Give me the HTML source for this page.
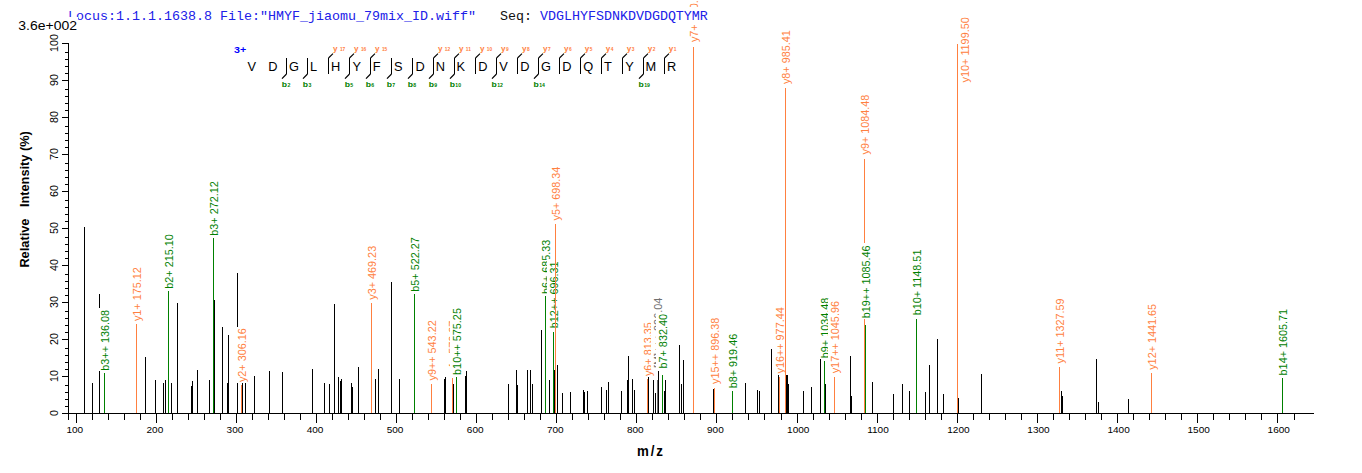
<!DOCTYPE html>
<html><head><meta charset="utf-8"><title>spectrum</title>
<style>html,body{margin:0;padding:0;background:#fff}svg{display:block}text{white-space:pre}</style></head>
<body>
<svg width="1362" height="473" viewBox="0 0 1362 473" font-family='"Liberation Sans", sans-serif' shape-rendering="crispEdges">
<rect width="1362" height="473" fill="#fff"/>
<g id="peaks">
<rect x="84" y="227" width="1" height="186" fill="#000"/>
<rect x="92" y="383" width="1" height="30" fill="#000"/>
<rect x="99" y="294" width="1" height="119" fill="#000"/>
<rect x="104" y="373" width="1" height="40" fill="#008000"/>
<rect x="98.40" y="307.65" width="13.6" height="63.35" fill="#fff"/>
<text transform="translate(109.40,370.70) rotate(-90) scale(0.985,1.0)" font-size="11.0" fill="#008000">b3++ 136.08</text>
<rect x="136" y="324" width="1" height="89" fill="#FF8040"/>
<rect x="130.40" y="265.59" width="13.6" height="56.41" fill="#fff"/>
<text transform="translate(141.40,321.10) rotate(-90) scale(0.985,1.0)" font-size="11.0" fill="#FF8040">y1+ 175.12</text>
<rect x="145" y="357" width="1" height="56" fill="#000"/>
<rect x="155" y="380" width="1" height="33" fill="#000"/>
<rect x="163" y="383" width="1" height="30" fill="#000"/>
<rect x="165" y="380" width="1" height="33" fill="#000"/>
<rect x="168" y="291" width="1" height="122" fill="#008000"/>
<rect x="162.40" y="231.98" width="13.6" height="57.02" fill="#fff"/>
<text transform="translate(173.40,288.70) rotate(-90) scale(0.985,1.0)" font-size="11.0" fill="#008000">b2+ 215.10</text>
<rect x="171" y="383" width="1" height="30" fill="#000"/>
<rect x="177" y="303" width="1" height="110" fill="#000"/>
<rect x="191" y="386" width="1" height="27" fill="#000"/>
<rect x="192" y="381" width="1" height="32" fill="#000"/>
<rect x="197" y="370" width="1" height="43" fill="#000"/>
<rect x="209" y="380" width="1" height="33" fill="#000"/>
<rect x="213" y="238" width="1" height="175" fill="#008000"/>
<rect x="207.40" y="178.98" width="13.6" height="57.02" fill="#fff"/>
<text transform="translate(218.40,235.70) rotate(-90) scale(0.985,1.0)" font-size="11.0" fill="#008000">b3+ 272.12</text>
<rect x="214" y="300" width="1" height="113" fill="#000"/>
<rect x="222" y="327" width="1" height="86" fill="#000"/>
<rect x="227" y="383" width="1" height="30" fill="#000"/>
<rect x="228" y="335" width="1" height="78" fill="#000"/>
<rect x="237" y="273" width="1" height="140" fill="#000"/>
<rect x="241" y="385" width="1" height="28" fill="#FF8040"/>
<rect x="235.40" y="326.59" width="13.6" height="56.41" fill="#fff"/>
<text transform="translate(246.40,382.10) rotate(-90) scale(0.985,1.0)" font-size="11.0" fill="#FF8040">y2+ 306.16</text>
<rect x="242" y="383" width="1" height="30" fill="#000"/>
<rect x="245" y="383" width="1" height="30" fill="#000"/>
<rect x="254" y="376" width="1" height="37" fill="#000"/>
<rect x="269" y="371" width="1" height="42" fill="#000"/>
<rect x="282" y="372" width="1" height="41" fill="#000"/>
<rect x="312" y="369" width="1" height="44" fill="#000"/>
<rect x="324" y="383" width="1" height="30" fill="#000"/>
<rect x="329" y="384" width="1" height="29" fill="#000"/>
<rect x="334" y="304" width="1" height="109" fill="#000"/>
<rect x="338" y="377" width="1" height="36" fill="#000"/>
<rect x="340" y="381" width="1" height="32" fill="#000"/>
<rect x="341" y="379" width="1" height="34" fill="#000"/>
<rect x="351" y="383" width="1" height="30" fill="#000"/>
<rect x="352" y="387" width="1" height="26" fill="#000"/>
<rect x="358" y="367" width="1" height="46" fill="#000"/>
<rect x="371" y="303" width="1" height="110" fill="#FF8040"/>
<rect x="365.40" y="244.19" width="13.6" height="56.41" fill="#fff"/>
<text transform="translate(376.40,299.70) rotate(-90) scale(0.985,1.0)" font-size="11.0" fill="#FF8040">y3+ 469.23</text>
<rect x="375" y="379" width="1" height="34" fill="#000"/>
<rect x="378" y="369" width="1" height="44" fill="#000"/>
<rect x="391" y="282" width="1" height="131" fill="#000"/>
<rect x="399" y="379" width="1" height="34" fill="#000"/>
<rect x="414" y="294" width="1" height="119" fill="#008000"/>
<rect x="408.40" y="234.98" width="13.6" height="57.02" fill="#fff"/>
<text transform="translate(419.40,291.70) rotate(-90) scale(0.985,1.0)" font-size="11.0" fill="#008000">b5+ 522.27</text>
<rect x="431" y="384" width="1" height="29" fill="#FF8040"/>
<rect x="425.40" y="318.66" width="13.6" height="62.74" fill="#fff"/>
<text transform="translate(436.40,380.50) rotate(-90) scale(0.985,1.0)" font-size="11.0" fill="#FF8040">y9++ 543.22</text>
<rect x="444" y="379" width="1" height="34" fill="#000"/>
<rect x="445" y="377" width="1" height="36" fill="#000"/>
<rect x="452" y="378" width="1" height="35" fill="#FF8040"/>
<rect x="446.40" y="319.09" width="13.6" height="56.41" fill="#fff"/>
<text transform="translate(457.40,374.60) rotate(-90) scale(0.985,1.0)" font-size="11.0" fill="#FF8040">y4+ 570.27</text>
<rect x="453" y="384" width="1" height="29" fill="#000"/>
<rect x="456" y="377" width="1" height="36" fill="#008000"/>
<rect x="450.40" y="305.83" width="13.6" height="69.37" fill="#fff"/>
<text transform="translate(461.40,374.90) rotate(-90) scale(0.985,1.0)" font-size="11.0" fill="#008000">b10++ 575.25</text>
<rect x="465" y="376" width="1" height="37" fill="#000"/>
<rect x="466" y="371" width="1" height="42" fill="#000"/>
<rect x="508" y="384" width="1" height="29" fill="#000"/>
<rect x="516" y="370" width="1" height="43" fill="#000"/>
<rect x="517" y="385" width="1" height="28" fill="#000"/>
<rect x="527" y="370" width="1" height="43" fill="#000"/>
<rect x="530" y="370" width="1" height="43" fill="#000"/>
<rect x="532" y="384" width="1" height="29" fill="#000"/>
<rect x="541" y="330" width="1" height="83" fill="#000"/>
<rect x="545" y="296" width="1" height="117" fill="#008000"/>
<rect x="539.40" y="237.38" width="13.6" height="57.02" fill="#fff"/>
<text transform="translate(550.40,294.10) rotate(-90) scale(0.985,1.0)" font-size="11.0" fill="#008000">b6+ 685.33</text>
<rect x="549" y="380" width="1" height="33" fill="#000"/>
<rect x="553" y="332" width="1" height="81" fill="#008000"/>
<rect x="547.40" y="259.13" width="13.6" height="69.37" fill="#fff"/>
<text transform="translate(558.40,328.20) rotate(-90) scale(0.985,1.0)" font-size="11.0" fill="#008000">b12++ 696.31</text>
<rect x="554" y="370" width="1" height="43" fill="#000"/>
<rect x="555" y="224" width="1" height="189" fill="#FF8040"/>
<rect x="549.40" y="164.99" width="13.6" height="56.41" fill="#fff"/>
<text transform="translate(560.40,220.50) rotate(-90) scale(0.985,1.0)" font-size="11.0" fill="#FF8040">y5+ 698.34</text>
<rect x="557" y="365" width="1" height="48" fill="#000"/>
<rect x="562" y="393" width="1" height="20" fill="#000"/>
<rect x="570" y="392" width="1" height="21" fill="#000"/>
<rect x="583" y="390" width="1" height="23" fill="#000"/>
<rect x="584" y="392" width="1" height="21" fill="#000"/>
<rect x="587" y="391" width="1" height="22" fill="#000"/>
<rect x="601" y="387" width="1" height="26" fill="#000"/>
<rect x="606" y="390" width="1" height="23" fill="#000"/>
<rect x="608" y="382" width="1" height="31" fill="#000"/>
<rect x="621" y="391" width="1" height="22" fill="#000"/>
<rect x="627" y="380" width="1" height="33" fill="#000"/>
<rect x="628" y="356" width="1" height="57" fill="#000"/>
<rect x="632" y="379" width="1" height="34" fill="#000"/>
<rect x="634" y="390" width="1" height="23" fill="#000"/>
<rect x="647" y="379" width="1" height="34" fill="#FF8040"/>
<rect x="641.40" y="320.59" width="13.6" height="56.41" fill="#fff"/>
<text transform="translate(652.40,376.10) rotate(-90) scale(0.985,1.0)" font-size="11.0" fill="#FF8040">y6+ 813.35</text>
<rect x="648" y="377" width="1" height="36" fill="#000"/>
<rect x="653" y="380" width="1" height="33" fill="#000"/>
<rect x="655" y="393" width="1" height="20" fill="#000"/>
<rect x="657" y="380" width="1" height="33" fill="#707070"/>
<rect x="651.40" y="296.12" width="13.6" height="72.68" fill="#fff"/>
<text transform="translate(662.40,367.90) rotate(-90) scale(0.985,1.0)" font-size="11.0" fill="#707070">[M]+++ 826.04</text>
<rect x="658" y="371" width="1" height="42" fill="#000"/>
<rect x="662" y="375" width="1" height="38" fill="#008000"/>
<rect x="656.40" y="311.78" width="13.6" height="57.02" fill="#fff"/>
<text transform="translate(667.40,368.50) rotate(-90) scale(0.985,1.0)" font-size="11.0" fill="#008000">b7+ 832.40</text>
<rect x="664" y="391" width="1" height="22" fill="#000"/>
<rect x="665" y="380" width="1" height="33" fill="#000"/>
<rect x="679" y="345" width="1" height="68" fill="#000"/>
<rect x="681" y="384" width="1" height="29" fill="#000"/>
<rect x="683" y="360" width="1" height="53" fill="#000"/>
<rect x="693" y="47" width="1" height="366" fill="#FF8040"/>
<rect x="687.40" y="-13.41" width="13.6" height="56.41" fill="#fff"/>
<text transform="translate(698.40,42.10) rotate(-90) scale(0.985,1.0)" font-size="11.0" fill="#FF8040">y7+ 870.38</text>
<rect x="713" y="389" width="1" height="24" fill="#000"/>
<rect x="714" y="388" width="1" height="25" fill="#FF8040"/>
<rect x="708.40" y="316.03" width="13.6" height="68.77" fill="#fff"/>
<text transform="translate(719.40,383.90) rotate(-90) scale(0.985,1.0)" font-size="11.0" fill="#FF8040">y15++ 896.38</text>
<rect x="732" y="391" width="1" height="22" fill="#008000"/>
<rect x="726.40" y="331.58" width="13.6" height="57.02" fill="#fff"/>
<text transform="translate(737.40,388.30) rotate(-90) scale(0.985,1.0)" font-size="11.0" fill="#008000">b8+ 919.46</text>
<rect x="745" y="383" width="1" height="30" fill="#000"/>
<rect x="757" y="390" width="1" height="23" fill="#000"/>
<rect x="759" y="391" width="1" height="22" fill="#000"/>
<rect x="771" y="349" width="1" height="64" fill="#000"/>
<rect x="778" y="375" width="1" height="38" fill="#000"/>
<rect x="779" y="377" width="1" height="36" fill="#FF8040"/>
<rect x="773.40" y="305.63" width="13.6" height="68.77" fill="#fff"/>
<text transform="translate(784.40,373.50) rotate(-90) scale(0.985,1.0)" font-size="11.0" fill="#FF8040">y16++ 977.44</text>
<rect x="785" y="88" width="1" height="325" fill="#FF8040"/>
<rect x="779.40" y="28.59" width="13.6" height="56.41" fill="#fff"/>
<text transform="translate(790.40,84.10) rotate(-90) scale(0.985,1.0)" font-size="11.0" fill="#FF8040">y8+ 985.41</text>
<rect x="786" y="375" width="1" height="38" fill="#000"/>
<rect x="787" y="375" width="1" height="38" fill="#000"/>
<rect x="788" y="384" width="1" height="29" fill="#000"/>
<rect x="803" y="391" width="1" height="22" fill="#000"/>
<rect x="811" y="387" width="1" height="26" fill="#000"/>
<rect x="820" y="359" width="1" height="54" fill="#000"/>
<rect x="824" y="361" width="1" height="52" fill="#008000"/>
<rect x="818.40" y="295.45" width="13.6" height="63.05" fill="#fff"/>
<text transform="translate(829.40,358.20) rotate(-90) scale(0.985,1.0)" font-size="11.0" fill="#008000">b9+ 1034.48</text>
<rect x="825" y="384" width="1" height="29" fill="#000"/>
<rect x="834" y="377" width="1" height="36" fill="#FF8040"/>
<rect x="828.40" y="299.41" width="13.6" height="74.79" fill="#fff"/>
<text transform="translate(839.40,373.30) rotate(-90) scale(0.985,1.0)" font-size="11.0" fill="#FF8040">y17++ 1045.96</text>
<rect x="850" y="356" width="1" height="57" fill="#000"/>
<rect x="851" y="396" width="1" height="17" fill="#000"/>
<rect x="864" y="159" width="1" height="254" fill="#FF8040"/>
<rect x="858.40" y="92.96" width="13.6" height="62.44" fill="#fff"/>
<text transform="translate(869.40,154.50) rotate(-90) scale(0.985,1.0)" font-size="11.0" fill="#FF8040">y9+ 1084.48</text>
<rect x="865" y="325" width="1" height="88" fill="#008000"/>
<rect x="859.40" y="243.10" width="13.6" height="75.40" fill="#fff"/>
<text transform="translate(870.40,318.20) rotate(-90) scale(0.985,1.0)" font-size="11.0" fill="#008000">b19++ 1085.46</text>
<rect x="872" y="382" width="1" height="31" fill="#000"/>
<rect x="893" y="394" width="1" height="19" fill="#000"/>
<rect x="902" y="384" width="1" height="29" fill="#000"/>
<rect x="909" y="391" width="1" height="22" fill="#000"/>
<rect x="916" y="319" width="1" height="94" fill="#008000"/>
<rect x="910.40" y="246.53" width="13.6" height="69.07" fill="#fff"/>
<text transform="translate(921.40,315.30) rotate(-90) scale(0.985,1.0)" font-size="11.0" fill="#008000">b10+ 1148.51</text>
<rect x="925" y="392" width="1" height="21" fill="#000"/>
<rect x="929" y="365" width="1" height="48" fill="#000"/>
<rect x="937" y="339" width="1" height="74" fill="#000"/>
<rect x="943" y="394" width="1" height="19" fill="#000"/>
<rect x="957" y="44" width="1" height="369" fill="#FF8040"/>
<rect x="958.00" y="14.84" width="13.6" height="68.46" fill="#fff"/>
<text transform="translate(969.00,82.40) rotate(-90) scale(0.985,1.0)" font-size="11.0" fill="#FF8040">y10+ 1199.50</text>
<rect x="958" y="398" width="1" height="15" fill="#000"/>
<rect x="981" y="374" width="1" height="39" fill="#000"/>
<rect x="1059" y="367" width="1" height="46" fill="#FF8040"/>
<rect x="1053.40" y="295.94" width="13.6" height="68.46" fill="#fff"/>
<text transform="translate(1064.40,363.50) rotate(-90) scale(0.985,1.0)" font-size="11.0" fill="#FF8040">y11+ 1327.59</text>
<rect x="1061" y="391" width="1" height="22" fill="#000"/>
<rect x="1062" y="396" width="1" height="17" fill="#000"/>
<rect x="1096" y="359" width="1" height="54" fill="#000"/>
<rect x="1098" y="402" width="1" height="11" fill="#000"/>
<rect x="1128" y="399" width="1" height="14" fill="#000"/>
<rect x="1151" y="373" width="1" height="40" fill="#FF8040"/>
<rect x="1145.40" y="302.24" width="13.6" height="68.46" fill="#fff"/>
<text transform="translate(1156.40,369.80) rotate(-90) scale(0.985,1.0)" font-size="11.0" fill="#FF8040">y12+ 1441.65</text>
<rect x="1282" y="378" width="1" height="35" fill="#008000"/>
<rect x="1276.40" y="306.63" width="13.6" height="69.07" fill="#fff"/>
<text transform="translate(1287.40,375.40) rotate(-90) scale(0.985,1.0)" font-size="11.0" fill="#008000">b14+ 1605.71</text>
</g>
<g id="axes">
<rect x="68" y="43" width="1" height="377" fill="#000"/>
<rect x="62" y="413" width="1252" height="1" fill="#000"/>
<rect x="62" y="413" width="6" height="1" fill="#000"/>
<rect x="65" y="406" width="3" height="1" fill="#000"/>
<rect x="65" y="399" width="3" height="1" fill="#000"/>
<rect x="65" y="392" width="3" height="1" fill="#000"/>
<rect x="65" y="385" width="3" height="1" fill="#000"/>
<rect x="62" y="376" width="6" height="1" fill="#000"/>
<rect x="65" y="369" width="3" height="1" fill="#000"/>
<rect x="65" y="362" width="3" height="1" fill="#000"/>
<rect x="65" y="355" width="3" height="1" fill="#000"/>
<rect x="65" y="348" width="3" height="1" fill="#000"/>
<rect x="62" y="339" width="6" height="1" fill="#000"/>
<rect x="65" y="332" width="3" height="1" fill="#000"/>
<rect x="65" y="325" width="3" height="1" fill="#000"/>
<rect x="65" y="318" width="3" height="1" fill="#000"/>
<rect x="65" y="311" width="3" height="1" fill="#000"/>
<rect x="62" y="302" width="6" height="1" fill="#000"/>
<rect x="65" y="295" width="3" height="1" fill="#000"/>
<rect x="65" y="288" width="3" height="1" fill="#000"/>
<rect x="65" y="281" width="3" height="1" fill="#000"/>
<rect x="65" y="274" width="3" height="1" fill="#000"/>
<rect x="62" y="265" width="6" height="1" fill="#000"/>
<rect x="65" y="258" width="3" height="1" fill="#000"/>
<rect x="65" y="251" width="3" height="1" fill="#000"/>
<rect x="65" y="244" width="3" height="1" fill="#000"/>
<rect x="65" y="237" width="3" height="1" fill="#000"/>
<rect x="62" y="228" width="6" height="1" fill="#000"/>
<rect x="65" y="221" width="3" height="1" fill="#000"/>
<rect x="65" y="214" width="3" height="1" fill="#000"/>
<rect x="65" y="207" width="3" height="1" fill="#000"/>
<rect x="65" y="200" width="3" height="1" fill="#000"/>
<rect x="62" y="191" width="6" height="1" fill="#000"/>
<rect x="65" y="184" width="3" height="1" fill="#000"/>
<rect x="65" y="177" width="3" height="1" fill="#000"/>
<rect x="65" y="170" width="3" height="1" fill="#000"/>
<rect x="65" y="163" width="3" height="1" fill="#000"/>
<rect x="62" y="154" width="6" height="1" fill="#000"/>
<rect x="65" y="147" width="3" height="1" fill="#000"/>
<rect x="65" y="140" width="3" height="1" fill="#000"/>
<rect x="65" y="133" width="3" height="1" fill="#000"/>
<rect x="65" y="126" width="3" height="1" fill="#000"/>
<rect x="62" y="117" width="6" height="1" fill="#000"/>
<rect x="65" y="110" width="3" height="1" fill="#000"/>
<rect x="65" y="103" width="3" height="1" fill="#000"/>
<rect x="65" y="96" width="3" height="1" fill="#000"/>
<rect x="65" y="89" width="3" height="1" fill="#000"/>
<rect x="62" y="80" width="6" height="1" fill="#000"/>
<rect x="65" y="73" width="3" height="1" fill="#000"/>
<rect x="65" y="66" width="3" height="1" fill="#000"/>
<rect x="65" y="59" width="3" height="1" fill="#000"/>
<rect x="65" y="52" width="3" height="1" fill="#000"/>
<rect x="62" y="43" width="6" height="1" fill="#000"/>
<rect x="76" y="413" width="1" height="10" fill="#000"/>
<rect x="92" y="413" width="1" height="7" fill="#000"/>
<rect x="108" y="413" width="1" height="7" fill="#000"/>
<rect x="124" y="413" width="1" height="7" fill="#000"/>
<rect x="140" y="413" width="1" height="7" fill="#000"/>
<rect x="156" y="413" width="1" height="10" fill="#000"/>
<rect x="172" y="413" width="1" height="7" fill="#000"/>
<rect x="188" y="413" width="1" height="7" fill="#000"/>
<rect x="204" y="413" width="1" height="7" fill="#000"/>
<rect x="220" y="413" width="1" height="7" fill="#000"/>
<rect x="236" y="413" width="1" height="10" fill="#000"/>
<rect x="252" y="413" width="1" height="7" fill="#000"/>
<rect x="268" y="413" width="1" height="7" fill="#000"/>
<rect x="284" y="413" width="1" height="7" fill="#000"/>
<rect x="300" y="413" width="1" height="7" fill="#000"/>
<rect x="316" y="413" width="1" height="10" fill="#000"/>
<rect x="332" y="413" width="1" height="7" fill="#000"/>
<rect x="348" y="413" width="1" height="7" fill="#000"/>
<rect x="364" y="413" width="1" height="7" fill="#000"/>
<rect x="380" y="413" width="1" height="7" fill="#000"/>
<rect x="396" y="413" width="1" height="10" fill="#000"/>
<rect x="412" y="413" width="1" height="7" fill="#000"/>
<rect x="428" y="413" width="1" height="7" fill="#000"/>
<rect x="444" y="413" width="1" height="7" fill="#000"/>
<rect x="460" y="413" width="1" height="7" fill="#000"/>
<rect x="476" y="413" width="1" height="10" fill="#000"/>
<rect x="492" y="413" width="1" height="7" fill="#000"/>
<rect x="508" y="413" width="1" height="7" fill="#000"/>
<rect x="524" y="413" width="1" height="7" fill="#000"/>
<rect x="540" y="413" width="1" height="7" fill="#000"/>
<rect x="556" y="413" width="1" height="10" fill="#000"/>
<rect x="572" y="413" width="1" height="7" fill="#000"/>
<rect x="588" y="413" width="1" height="7" fill="#000"/>
<rect x="604" y="413" width="1" height="7" fill="#000"/>
<rect x="620" y="413" width="1" height="7" fill="#000"/>
<rect x="636" y="413" width="1" height="10" fill="#000"/>
<rect x="652" y="413" width="1" height="7" fill="#000"/>
<rect x="668" y="413" width="1" height="7" fill="#000"/>
<rect x="684" y="413" width="1" height="7" fill="#000"/>
<rect x="700" y="413" width="1" height="7" fill="#000"/>
<rect x="716" y="413" width="1" height="10" fill="#000"/>
<rect x="732" y="413" width="1" height="7" fill="#000"/>
<rect x="748" y="413" width="1" height="7" fill="#000"/>
<rect x="764" y="413" width="1" height="7" fill="#000"/>
<rect x="781" y="413" width="1" height="7" fill="#000"/>
<rect x="797" y="413" width="1" height="10" fill="#000"/>
<rect x="813" y="413" width="1" height="7" fill="#000"/>
<rect x="829" y="413" width="1" height="7" fill="#000"/>
<rect x="845" y="413" width="1" height="7" fill="#000"/>
<rect x="861" y="413" width="1" height="7" fill="#000"/>
<rect x="877" y="413" width="1" height="10" fill="#000"/>
<rect x="893" y="413" width="1" height="7" fill="#000"/>
<rect x="909" y="413" width="1" height="7" fill="#000"/>
<rect x="925" y="413" width="1" height="7" fill="#000"/>
<rect x="941" y="413" width="1" height="7" fill="#000"/>
<rect x="957" y="413" width="1" height="10" fill="#000"/>
<rect x="973" y="413" width="1" height="7" fill="#000"/>
<rect x="989" y="413" width="1" height="7" fill="#000"/>
<rect x="1005" y="413" width="1" height="7" fill="#000"/>
<rect x="1021" y="413" width="1" height="7" fill="#000"/>
<rect x="1037" y="413" width="1" height="10" fill="#000"/>
<rect x="1053" y="413" width="1" height="7" fill="#000"/>
<rect x="1069" y="413" width="1" height="7" fill="#000"/>
<rect x="1085" y="413" width="1" height="7" fill="#000"/>
<rect x="1101" y="413" width="1" height="7" fill="#000"/>
<rect x="1117" y="413" width="1" height="10" fill="#000"/>
<rect x="1133" y="413" width="1" height="7" fill="#000"/>
<rect x="1149" y="413" width="1" height="7" fill="#000"/>
<rect x="1165" y="413" width="1" height="7" fill="#000"/>
<rect x="1181" y="413" width="1" height="7" fill="#000"/>
<rect x="1197" y="413" width="1" height="10" fill="#000"/>
<rect x="1213" y="413" width="1" height="7" fill="#000"/>
<rect x="1229" y="413" width="1" height="7" fill="#000"/>
<rect x="1245" y="413" width="1" height="7" fill="#000"/>
<rect x="1261" y="413" width="1" height="7" fill="#000"/>
<rect x="1277" y="413" width="1" height="10" fill="#000"/>
<rect x="1294" y="413" width="1" height="7" fill="#000"/>
</g>
<g id="xticklabels">
<text transform="translate(66.40,433) scale(1.035,1)" font-size="9.7">100</text>
<text transform="translate(146.48,433) scale(1.035,1)" font-size="9.7">200</text>
<text transform="translate(226.56,433) scale(1.035,1)" font-size="9.7">300</text>
<text transform="translate(306.64,433) scale(1.035,1)" font-size="9.7">400</text>
<text transform="translate(386.72,433) scale(1.035,1)" font-size="9.7">500</text>
<text transform="translate(466.80,433) scale(1.035,1)" font-size="9.7">600</text>
<text transform="translate(546.88,433) scale(1.035,1)" font-size="9.7">700</text>
<text transform="translate(626.96,433) scale(1.035,1)" font-size="9.7">800</text>
<text transform="translate(707.04,433) scale(1.035,1)" font-size="9.7">900</text>
<text transform="translate(787.12,433) scale(1.035,1)" font-size="9.7">1000</text>
<text transform="translate(867.20,433) scale(1.035,1)" font-size="9.7">1100</text>
<text transform="translate(947.28,433) scale(1.035,1)" font-size="9.7">1200</text>
<text transform="translate(1027.36,433) scale(1.035,1)" font-size="9.7">1300</text>
<text transform="translate(1107.44,433) scale(1.035,1)" font-size="9.7">1400</text>
<text transform="translate(1187.52,433) scale(1.035,1)" font-size="9.7">1500</text>
<text transform="translate(1267.60,433) scale(1.035,1)" font-size="9.7">1600</text>
</g>
<g id="yticklabels">
<text transform="translate(58.2,413.00) rotate(-90) scale(1,1.0)" font-size="10.7" text-anchor="middle">0</text>
<text transform="translate(58.2,376.00) rotate(-90) scale(1,1.0)" font-size="10.7" text-anchor="middle">10</text>
<text transform="translate(58.2,339.00) rotate(-90) scale(1,1.0)" font-size="10.7" text-anchor="middle">20</text>
<text transform="translate(58.2,302.00) rotate(-90) scale(1,1.0)" font-size="10.7" text-anchor="middle">30</text>
<text transform="translate(58.2,265.00) rotate(-90) scale(1,1.0)" font-size="10.7" text-anchor="middle">40</text>
<text transform="translate(58.2,228.00) rotate(-90) scale(1,1.0)" font-size="10.7" text-anchor="middle">50</text>
<text transform="translate(58.2,191.00) rotate(-90) scale(1,1.0)" font-size="10.7" text-anchor="middle">60</text>
<text transform="translate(58.2,154.00) rotate(-90) scale(1,1.0)" font-size="10.7" text-anchor="middle">70</text>
<text transform="translate(58.2,117.00) rotate(-90) scale(1,1.0)" font-size="10.7" text-anchor="middle">80</text>
<text transform="translate(58.2,80.00) rotate(-90) scale(1,1.0)" font-size="10.7" text-anchor="middle">90</text>
<text transform="translate(58.2,43.00) rotate(-90) scale(1,1.0)" font-size="10.7" text-anchor="middle">100</text>
</g>
<rect x="66" y="7" width="646" height="18" fill="#fff"/>
<text x="68" y="20" font-family='"Liberation Mono", monospace' font-size="13.33" fill="#2020E8" xml:space="preserve">Locus:1.1.1.1638.8 File:"HMYF_jiaomu_79mix_ID.wiff"   <tspan fill="#101010">Seq:</tspan> VDGLHYFSDNKDVDGDQTYMR</text>
<rect x="16" y="17" width="61.5" height="15" fill="#fff"/>
<text transform="translate(18.3,30) scale(1.12,1)" font-size="12.5">3.6e+002</text>
<text transform="translate(637,455.6) scale(1,1.16)" font-size="13.3" font-weight="bold" letter-spacing="1.9">m/z</text>
<text transform="translate(29.0,267.6) rotate(-90) scale(0.94,1)" font-size="13.6" font-weight="bold">Relative</text>
<text transform="translate(29.0,207.1) rotate(-90) scale(0.94,1)" font-size="13.6" font-weight="bold">Intensity (%)</text>
<g id="peptide">
<text transform="translate(234.0,52.5) scale(1.16,1)" font-size="9.2" font-weight="bold" fill="#0000FF">3+</text>
<text transform="translate(247.60,70.5) scale(0.97,1)" font-size="13.2">V</text>
<text transform="translate(268.34,70.5) scale(0.97,1)" font-size="13.2">D</text>
<text transform="translate(289.11,70.5) scale(0.97,1)" font-size="13.2">G</text>
<text transform="translate(310.01,70.5) scale(0.97,1)" font-size="13.2">L</text>
<text transform="translate(330.94,70.5) scale(0.97,1)" font-size="13.2">H</text>
<text transform="translate(352.50,70.5) scale(0.97,1)" font-size="13.2">Y</text>
<text transform="translate(372.64,70.5) scale(0.97,1)" font-size="13.2">F</text>
<text transform="translate(394.01,70.5) scale(0.97,1)" font-size="13.2">S</text>
<text transform="translate(415.44,70.5) scale(0.97,1)" font-size="13.2">D</text>
<text transform="translate(435.81,70.5) scale(0.97,1)" font-size="13.2">N</text>
<text transform="translate(456.61,70.5) scale(0.97,1)" font-size="13.2">K</text>
<text transform="translate(478.24,70.5) scale(0.97,1)" font-size="13.2">D</text>
<text transform="translate(499.30,70.5) scale(0.97,1)" font-size="13.2">V</text>
<text transform="translate(520.34,70.5) scale(0.97,1)" font-size="13.2">D</text>
<text transform="translate(541.01,70.5) scale(0.97,1)" font-size="13.2">G</text>
<text transform="translate(562.24,70.5) scale(0.97,1)" font-size="13.2">D</text>
<text transform="translate(583.17,70.5) scale(0.97,1)" font-size="13.2">Q</text>
<text transform="translate(604.04,70.5) scale(0.97,1)" font-size="13.2">T</text>
<text transform="translate(625.20,70.5) scale(0.97,1)" font-size="13.2">Y</text>
<text transform="translate(645.51,70.5) scale(0.97,1)" font-size="13.2">M</text>
<text transform="translate(666.94,70.5) scale(0.97,1)" font-size="13.2">R</text>
<rect x="286" y="58" width="1" height="16" fill="#000"/>
<path d="M286.5,74 L282.0,78.6" stroke="#000" stroke-width="1.15" fill="none" shape-rendering="auto"/>
<text transform="translate(281.77,86.8) scale(1.12,1)" font-size="7.7" font-weight="bold" fill="#008000">b<tspan font-size="4.6" dx="0.35">2</tspan></text>
<rect x="307" y="58" width="1" height="16" fill="#000"/>
<path d="M307.5,74 L303.0,78.6" stroke="#000" stroke-width="1.15" fill="none" shape-rendering="auto"/>
<text transform="translate(302.75,86.8) scale(1.12,1)" font-size="7.7" font-weight="bold" fill="#008000">b<tspan font-size="4.6" dx="0.35">3</tspan></text>
<rect x="328" y="58" width="1" height="16" fill="#000"/>
<path d="M328.5,58 L333.0,53.6" stroke="#000" stroke-width="1.15" fill="none" shape-rendering="auto"/>
<text transform="translate(333.04,50.9) scale(1.05,1)" font-size="7.7" font-weight="bold" fill="#FF8040">y<tspan font-size="4.6" dx="2.3">17</tspan></text>
<rect x="349" y="58" width="1" height="16" fill="#000"/>
<path d="M349.5,74 L345.0,78.6" stroke="#000" stroke-width="1.15" fill="none" shape-rendering="auto"/>
<text transform="translate(344.73,86.8) scale(1.12,1)" font-size="7.7" font-weight="bold" fill="#008000">b<tspan font-size="4.6" dx="0.35">5</tspan></text>
<path d="M349.5,58 L354.0,53.6" stroke="#000" stroke-width="1.15" fill="none" shape-rendering="auto"/>
<text transform="translate(354.03,50.9) scale(1.05,1)" font-size="7.7" font-weight="bold" fill="#FF8040">y<tspan font-size="4.6" dx="2.3">16</tspan></text>
<rect x="370" y="58" width="1" height="16" fill="#000"/>
<path d="M370.5,74 L366.0,78.6" stroke="#000" stroke-width="1.15" fill="none" shape-rendering="auto"/>
<text transform="translate(365.71,86.8) scale(1.12,1)" font-size="7.7" font-weight="bold" fill="#008000">b<tspan font-size="4.6" dx="0.35">6</tspan></text>
<path d="M370.5,58 L375.0,53.6" stroke="#000" stroke-width="1.15" fill="none" shape-rendering="auto"/>
<text transform="translate(375.01,50.9) scale(1.05,1)" font-size="7.7" font-weight="bold" fill="#FF8040">y<tspan font-size="4.6" dx="2.3">15</tspan></text>
<rect x="391" y="58" width="1" height="16" fill="#000"/>
<path d="M391.5,74 L387.0,78.6" stroke="#000" stroke-width="1.15" fill="none" shape-rendering="auto"/>
<text transform="translate(386.69,86.8) scale(1.12,1)" font-size="7.7" font-weight="bold" fill="#008000">b<tspan font-size="4.6" dx="0.35">7</tspan></text>
<rect x="412" y="58" width="1" height="16" fill="#000"/>
<path d="M412.5,74 L408.0,78.6" stroke="#000" stroke-width="1.15" fill="none" shape-rendering="auto"/>
<text transform="translate(407.68,86.8) scale(1.12,1)" font-size="7.7" font-weight="bold" fill="#008000">b<tspan font-size="4.6" dx="0.35">8</tspan></text>
<rect x="433" y="58" width="1" height="16" fill="#000"/>
<path d="M433.5,74 L429.0,78.6" stroke="#000" stroke-width="1.15" fill="none" shape-rendering="auto"/>
<text transform="translate(428.67,86.8) scale(1.12,1)" font-size="7.7" font-weight="bold" fill="#008000">b<tspan font-size="4.6" dx="0.35">9</tspan></text>
<path d="M433.5,58 L438.0,53.6" stroke="#000" stroke-width="1.15" fill="none" shape-rendering="auto"/>
<text transform="translate(437.97,50.9) scale(1.05,1)" font-size="7.7" font-weight="bold" fill="#FF8040">y<tspan font-size="4.6" dx="2.3">12</tspan></text>
<rect x="454" y="58" width="1" height="16" fill="#000"/>
<path d="M454.5,74 L450.0,78.6" stroke="#000" stroke-width="1.15" fill="none" shape-rendering="auto"/>
<text transform="translate(449.65,86.8) scale(1.12,1)" font-size="7.7" font-weight="bold" fill="#008000">b<tspan font-size="4.6" dx="0.35">10</tspan></text>
<path d="M454.5,58 L459.0,53.6" stroke="#000" stroke-width="1.15" fill="none" shape-rendering="auto"/>
<text transform="translate(458.95,50.9) scale(1.05,1)" font-size="7.7" font-weight="bold" fill="#FF8040">y<tspan font-size="4.6" dx="2.3">11</tspan></text>
<rect x="475" y="58" width="1" height="16" fill="#000"/>
<path d="M475.5,58 L480.0,53.6" stroke="#000" stroke-width="1.15" fill="none" shape-rendering="auto"/>
<text transform="translate(479.94,50.9) scale(1.05,1)" font-size="7.7" font-weight="bold" fill="#FF8040">y<tspan font-size="4.6" dx="2.3">10</tspan></text>
<rect x="496" y="58" width="1" height="16" fill="#000"/>
<path d="M496.5,74 L492.0,78.6" stroke="#000" stroke-width="1.15" fill="none" shape-rendering="auto"/>
<text transform="translate(491.62,86.8) scale(1.12,1)" font-size="7.7" font-weight="bold" fill="#008000">b<tspan font-size="4.6" dx="0.35">12</tspan></text>
<path d="M496.5,58 L501.0,53.6" stroke="#000" stroke-width="1.15" fill="none" shape-rendering="auto"/>
<text transform="translate(500.92,50.9) scale(1.05,1)" font-size="7.7" font-weight="bold" fill="#FF8040">y<tspan font-size="4.6" dx="0.5">9</tspan></text>
<rect x="517" y="58" width="1" height="16" fill="#000"/>
<path d="M517.5,58 L522.0,53.6" stroke="#000" stroke-width="1.15" fill="none" shape-rendering="auto"/>
<text transform="translate(521.90,50.9) scale(1.05,1)" font-size="7.7" font-weight="bold" fill="#FF8040">y<tspan font-size="4.6" dx="0.5">8</tspan></text>
<rect x="538" y="58" width="1" height="16" fill="#000"/>
<path d="M538.5,74 L534.0,78.6" stroke="#000" stroke-width="1.15" fill="none" shape-rendering="auto"/>
<text transform="translate(533.59,86.8) scale(1.12,1)" font-size="7.7" font-weight="bold" fill="#008000">b<tspan font-size="4.6" dx="0.35">14</tspan></text>
<path d="M538.5,58 L543.0,53.6" stroke="#000" stroke-width="1.15" fill="none" shape-rendering="auto"/>
<text transform="translate(542.89,50.9) scale(1.05,1)" font-size="7.7" font-weight="bold" fill="#FF8040">y<tspan font-size="4.6" dx="0.5">7</tspan></text>
<rect x="559" y="58" width="1" height="16" fill="#000"/>
<path d="M559.5,58 L564.0,53.6" stroke="#000" stroke-width="1.15" fill="none" shape-rendering="auto"/>
<text transform="translate(563.88,50.9) scale(1.05,1)" font-size="7.7" font-weight="bold" fill="#FF8040">y<tspan font-size="4.6" dx="0.5">6</tspan></text>
<rect x="580" y="58" width="1" height="16" fill="#000"/>
<path d="M580.5,58 L585.0,53.6" stroke="#000" stroke-width="1.15" fill="none" shape-rendering="auto"/>
<text transform="translate(584.86,50.9) scale(1.05,1)" font-size="7.7" font-weight="bold" fill="#FF8040">y<tspan font-size="4.6" dx="0.5">5</tspan></text>
<rect x="601" y="58" width="1" height="16" fill="#000"/>
<path d="M601.5,58 L606.0,53.6" stroke="#000" stroke-width="1.15" fill="none" shape-rendering="auto"/>
<text transform="translate(605.85,50.9) scale(1.05,1)" font-size="7.7" font-weight="bold" fill="#FF8040">y<tspan font-size="4.6" dx="0.5">4</tspan></text>
<rect x="622" y="58" width="1" height="16" fill="#000"/>
<path d="M622.5,58 L627.0,53.6" stroke="#000" stroke-width="1.15" fill="none" shape-rendering="auto"/>
<text transform="translate(626.83,50.9) scale(1.05,1)" font-size="7.7" font-weight="bold" fill="#FF8040">y<tspan font-size="4.6" dx="0.5">3</tspan></text>
<rect x="643" y="58" width="1" height="16" fill="#000"/>
<path d="M643.5,74 L639.0,78.6" stroke="#000" stroke-width="1.15" fill="none" shape-rendering="auto"/>
<text transform="translate(638.51,86.8) scale(1.12,1)" font-size="7.7" font-weight="bold" fill="#008000">b<tspan font-size="4.6" dx="0.35">19</tspan></text>
<path d="M643.5,58 L648.0,53.6" stroke="#000" stroke-width="1.15" fill="none" shape-rendering="auto"/>
<text transform="translate(647.81,50.9) scale(1.05,1)" font-size="7.7" font-weight="bold" fill="#FF8040">y<tspan font-size="4.6" dx="0.5">2</tspan></text>
<rect x="664" y="58" width="1" height="16" fill="#000"/>
<path d="M664.5,58 L669.0,53.6" stroke="#000" stroke-width="1.15" fill="none" shape-rendering="auto"/>
<text transform="translate(668.80,50.9) scale(1.05,1)" font-size="7.7" font-weight="bold" fill="#FF8040">y<tspan font-size="4.6" dx="0.5">1</tspan></text>
</g>
</svg>
</body></html>
